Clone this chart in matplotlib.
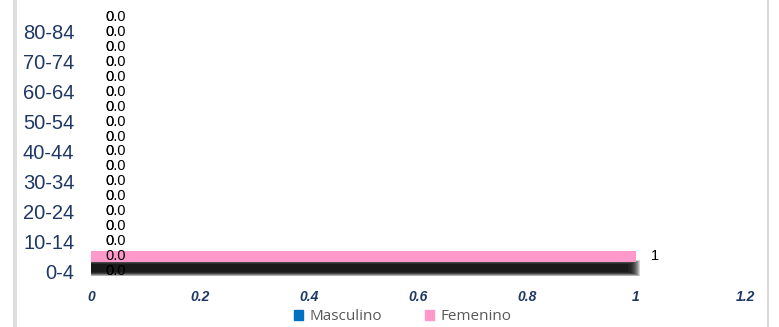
import numpy as np
import matplotlib.pyplot as plt
from matplotlib.lines import Line2D
from matplotlib.patches import Patch

plt.rcParams['font.family'] = ['Liberation Sans', 'DejaVu Sans']

grupos = ['0-4', '5-9', '10-14', '15-19', '20-24', '25-29', '30-34', '35-39',
          '40-44', '45-49', '50-54', '55-59', '60-64', '65-69', '70-74',
          '75-79', '80-84', '85+']
masculino = [0] * 18
femenino = [0, 1] + [0] * 16
xticks = [0, 0.2, 0.4, 0.6, 0.8, 1, 1.2]
xtick_labels = ['0', '0.2', '0.4', '0.6', '0.8', '1', '1.2']

azul = '#0070C0'
rosa = '#FF99CC'
navy = '#1F3864'

fig = plt.figure(figsize=(7.79, 3.27), dpi=100)
ax = fig.add_axes([0.1168, 0.1483, 0.8396, 0.8225])

y = np.arange(len(grupos))
h = 0.74

# sombra difusa bajo las barras de mujeres
fem = np.array(femenino, dtype=float)
con = fem > 0
for k in range(12):
    ax.barh(y[con] - 0.8, fem[con] - 0.014 + 0.002 * k, height=0.5 + 0.05 * k,
            color='black', alpha=0.17, linewidth=0, zorder=1)

ax.barh(y, masculino, height=h, color=azul, zorder=2)
ax.barh(y, femenino, height=h, color=rosa, zorder=3)

# etiquetas de datos
for i in range(len(grupos)):
    ax.annotate('%.1f' % masculino[i], (0, y[i]), xytext=(10, 0), textcoords='offset points',
                va='center', ha='left', fontsize=10.5, color='black', zorder=5)
    if femenino[i] == 0:
        ax.annotate('0', (0, y[i]), xytext=(10.3, 0), textcoords='offset points',
                    va='center', ha='left', fontsize=10.5, color='black', zorder=5)
    else:
        ax.annotate('%g' % femenino[i], (femenino[i], y[i]), xytext=(11, 0),
                    textcoords='offset points', va='center', ha='left',
                    fontsize=10.5, color='black', zorder=5)

ax.set_xlim(0, 1.2)
ax.set_ylim(-0.5, len(grupos) - 0.5)
ax.set_xticks(xticks)
ax.set_xticklabels(xtick_labels, fontsize=10, fontweight='bold', fontstyle='italic', color=navy)
ax.set_yticks(y)
ax.set_yticklabels([g if i % 2 == 0 else '' for i, g in enumerate(grupos)],
                   fontsize=14.5, color=navy)
ax.tick_params(axis='y', length=0, pad=12)
ax.tick_params(axis='x', length=0, pad=8)
for s in ax.spines.values():
    s.set_visible(False)

handles = [Patch(color=azul, label='Masculino'), Patch(color=rosa, label='Femenino')]
fig.legend(handles=handles, loc='center', bbox_to_anchor=(0.517, 0.032), ncol=2,
           frameon=False, handlelength=0.6, handleheight=0.6, handletextpad=0.4,
           columnspacing=2.8, prop={'family': 'Open Sans', 'size': 11},
           labelcolor='#595959')

# marco recortado
gris = '#D9D9D9'
fig.add_artist(Line2D([13.5 / 779, 13.5 / 779], [0, 1], color=gris, lw=1.2))
fig.add_artist(Line2D([16 / 779, 16 / 779], [0, 1], color=gris, lw=1.2))
fig.add_artist(Line2D([768 / 779, 768 / 779], [0, 1], color=gris, lw=1.5))

fig.savefig('out.png', dpi=100)
